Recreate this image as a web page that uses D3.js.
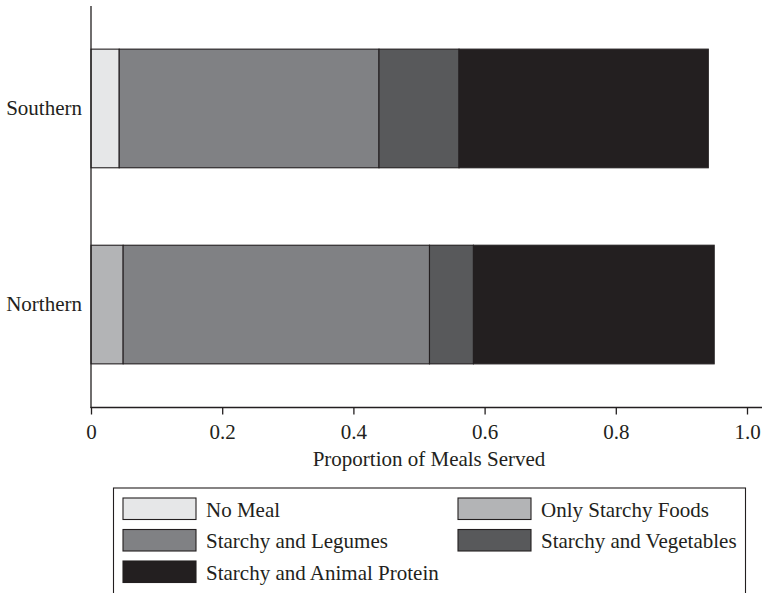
<!DOCTYPE html>
<html>
<head>
<meta charset="utf-8">
<script src="https://cdn.jsdelivr.net/npm/d3@7"></script>
<style>
  html, body { margin: 0; padding: 0; background: #fff; }
  svg { display: block; }
  text { font-family: "Liberation Serif", "Times New Roman", serif; fill: #231f20; }
</style>
</head>
<body>
<svg id="chart" width="762" height="593"></svg>
<script>
// ---- Data ----
const regions = ["Southern", "Northern"];
const categories = ["No Meal", "Only Starchy Foods", "Starchy and Legumes", "Starchy and Vegetables", "Starchy and Animal Protein"];
const southernValues = [0.043, 0.0, 0.396, 0.122, 0.380];
const northernValues = [0.0, 0.049, 0.467, 0.067, 0.367];
const xTicks = [0, 0.2, 0.4, 0.6, 0.8, 1.0];
const xTickLabels = ["0", "0.2", "0.4", "0.6", "0.8", "1.0"];
const colors = ["#e6e7e8", "#b3b4b6", "#808184", "#58595b", "#231f20"];

const rows = regions.map((r, i) => {
  const vals = i === 0 ? southernValues : northernValues;
  const o = { region: r };
  categories.forEach((c, j) => o[c] = vals[j]);
  return o;
});

const svg = d3.select("#chart");
const ink = "#231f20";

const x = d3.scaleLinear().domain([0, 1]).range([91, 747]);
const y = d3.scaleBand().domain(regions).range([6, 407]).paddingInner(0.395).paddingOuter(0.22);
const color = d3.scaleOrdinal().domain(categories).range(colors);

const stack = d3.stack().keys(categories)(rows);

// Bars
svg.append("g").selectAll("g").data(stack).join("g")
  .attr("fill", d => color(d.key))
  .selectAll("rect").data(d => d.filter(s => s[1] - s[0] > 0)).join("rect")
  .attr("x", d => x(d[0]))
  .attr("y", d => y(d.data.region))
  .attr("width", d => x(d[1]) - x(d[0]))
  .attr("height", y.bandwidth())
  .attr("stroke", ink)
  .attr("stroke-width", 1.1);

// X axis
const xAxis = svg.append("g").attr("transform", "translate(0,407.5)")
  .call(d3.axisBottom(x).tickValues(xTicks).tickFormat((d, i) => xTickLabels[i]).tickSize(7).tickSizeOuter(0));
xAxis.select(".domain").remove();
xAxis.append("line").attr("x1", 90.5).attr("x2", 762).attr("stroke", ink).attr("stroke-width", 1.3);
xAxis.selectAll(".tick line").attr("stroke", ink).attr("stroke-width", 1.3);
xAxis.selectAll(".tick text").attr("font-size", 21).attr("y", 17).attr("dy", "0.71em")
  .attr("font-family", "Liberation Serif, serif").attr("fill", ink);

// Y axis
svg.append("line").attr("x1", 91).attr("x2", 91).attr("y1", 6).attr("y2", 408)
  .attr("stroke", ink).attr("stroke-width", 1.3);
svg.append("g").selectAll("text").data(regions).join("text")
  .attr("x", 82)
  .attr("y", d => y(d) + y.bandwidth() / 2)
  .attr("dy", "0.32em")
  .attr("text-anchor", "end")
  .attr("font-size", 21)
  .text(d => d);

// Axis title
svg.append("text").attr("x", 429).attr("y", 466).attr("text-anchor", "middle")
  .attr("font-size", 21).text("Proportion of Meals Served");

// Legend
svg.append("rect").attr("x", 113.5).attr("y", 488).attr("width", 632).attr("height", 120)
  .attr("fill", "none").attr("stroke", ink).attr("stroke-width", 1.1);

const legendPos = [
  [123, 498], [458, 498],
  [123, 529.5], [458, 529.5],
  [123, 561]
];
const lg = svg.append("g").selectAll("g").data(categories).join("g")
  .attr("transform", (d, i) => `translate(${legendPos[i][0]},${legendPos[i][1]})`);
lg.append("rect").attr("width", 73).attr("height", 21.5)
  .attr("fill", d => color(d)).attr("stroke", ink).attr("stroke-width", 1.1);
lg.append("text").attr("x", 83).attr("y", 18.5).attr("font-size", 21).text(d => d);
</script>
</body>
</html>
